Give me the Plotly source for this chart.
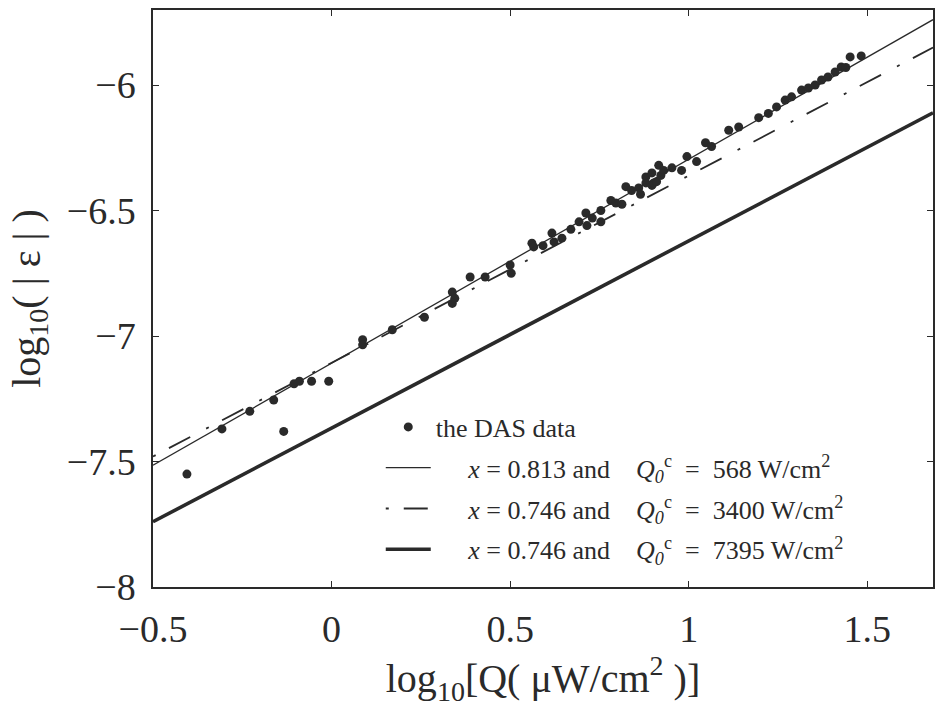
import plotly.graph_objects as go
import numpy as np

# DAS data points (log10 Q, log10 |eps|)
das_x = [-0.405, -0.307, -0.229, -0.162, -0.134, -0.105, -0.09, -0.056, -0.008,
         0.087, 0.087, 0.17, 0.26, 0.338, 0.338, 0.345, 0.388, 0.43, 0.50, 0.503,
         0.561, 0.566, 0.592, 0.617, 0.623, 0.645, 0.67, 0.693, 0.712, 0.715, 0.73,
         0.754, 0.754, 0.782, 0.796, 0.813, 0.824, 0.84, 0.86, 0.865, 0.88, 0.88,
         0.897, 0.897, 0.902, 0.91, 0.916, 0.922, 0.93, 0.953, 0.98, 0.995, 1.022,
         1.047, 1.064, 1.112, 1.14, 1.196, 1.223, 1.246, 1.27, 1.288, 1.316, 1.335,
         1.354, 1.372, 1.39, 1.41, 1.427, 1.44, 1.452, 1.483]
das_y = [-7.55, -7.37, -7.30, -7.255, -7.38, -7.19, -7.18, -7.18, -7.18,
         -7.015, -7.035, -6.975, -6.925, -6.825, -6.87, -6.85, -6.765, -6.765, -6.717, -6.75,
         -6.63, -6.645, -6.64, -6.59, -6.625, -6.61, -6.575, -6.545, -6.51, -6.56, -6.53,
         -6.50, -6.545, -6.46, -6.47, -6.475, -6.405, -6.42, -6.41, -6.435, -6.39, -6.366,
         -6.40, -6.35, -6.39, -6.385, -6.32, -6.36, -6.34, -6.33, -6.34, -6.285, -6.305,
         -6.23, -6.245, -6.18, -6.167, -6.13, -6.113, -6.087, -6.06, -6.047, -6.02, -6.012,
         -6.0, -5.98, -5.968, -5.948, -5.928, -5.93, -5.888, -5.884]

# Model lines: exponent x, critical flux Q0c, value at log10 Q = -0.5, slope
line_x_labels = ["0.813", "0.746", "0.746"]
line_q0c = ["568", "3400", "7395"]
line_slopes = [0.813, 0.746, 0.746]
line_start = [-7.515, -7.48, -7.74]
line_dash = ["solid", "3px,15px,24px,18px", "solid"]
line_width = [1.3, 1.8, 3.6]

x_tick_vals = [-0.5, 0, 0.5, 1, 1.5]
x_tick_text = ["−0.5", "0", "0.5", "1", "1.5"]
y_tick_vals = [-8, -7.5, -7, -6.5, -6]
y_tick_text = ["−8", "−7.5", "−7", "−6.5", "−6"]

XMIN, XMAX = -0.5, 1.684
YMIN, YMAX = -8.0, -5.701

ink = "#2a2a2a"
FONT = "Liberation Serif"
NB = "\u00a0"

fig = go.Figure()
fig.add_trace(go.Scatter(
    x=das_x, y=das_y, mode="markers", name="the DAS data",
    marker=dict(size=9, color=ink), legendgroup="a"))

xx = np.array([XMIN, XMAX])
for i in range(3):
    nm = (NB * 5 + "<i>x</i> = " + line_x_labels[i] + " and" + NB * 4 +
          "<i>Q</i><sub><i>0</i></sub><sup>c</sup>" + NB * 2 + "=" + NB * 2 + line_q0c[i] +
          " W/cm<sup>2</sup>")
    fig.add_trace(go.Scatter(
        x=xx, y=line_start[i] + line_slopes[i] * (xx - XMIN), mode="lines", name=nm,
        line=dict(color=ink, width=line_width[i], dash=line_dash[i]),
        legendgroup="g%d" % i))

axis_common = dict(
    showline=True, linecolor=ink, linewidth=1.5, mirror="ticks",
    ticks="inside", ticklen=6, tickcolor=ink, tickwidth=1.3,
    showgrid=False, zeroline=False,
    tickfont=dict(family=FONT, size=38, color=ink),
)

fig.update_layout(
    width=935, height=718,
    margin=dict(l=153, r=0, t=10, b=131),
    paper_bgcolor="white", plot_bgcolor="white",
    font=dict(family=FONT, color=ink),
    xaxis=dict(range=[XMIN, XMAX], tickvals=x_tick_vals, ticktext=x_tick_text,
               ticklabelstandoff=8,
               title=dict(text="log<sub>10</sub>[Q(" + NB + "μW/cm<sup>2</sup>" + NB + ")]",
                          font=dict(family=FONT, size=40, color=ink), standoff=10),
               **axis_common),
    yaxis=dict(range=[YMIN, YMAX], tickvals=y_tick_vals, ticktext=y_tick_text,
               ticklabelstandoff=8,
               title=dict(text="log<sub>10</sub>(" + NB + "|" + NB + "ε" + NB + "|" + NB + ")",
                          font=dict(family=FONT, size=40, color=ink), standoff=14),
               **axis_common),
    legend=dict(x=0.292, y=0.318, xanchor="left", yanchor="top",
                bgcolor="rgba(0,0,0,0)", borderwidth=0,
                font=dict(family=FONT, size=26, color=ink),
                tracegroupgap=4, itemwidth=45),
    showlegend=True,
)

fig.write_html("out.html")
